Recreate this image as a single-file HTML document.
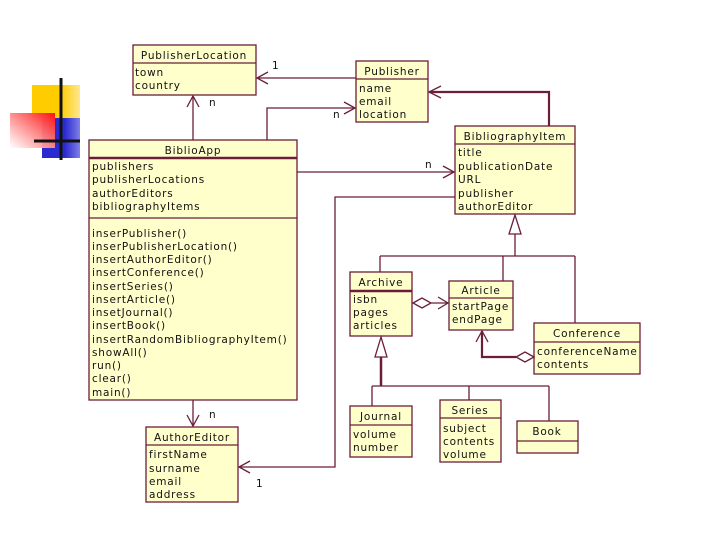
<!DOCTYPE html>
<html><head><meta charset="utf-8"><style>
html,body{margin:0;padding:0;background:#fff}
svg text{font-family:"DejaVu Sans","Liberation Sans",sans-serif;font-size:10.5px;fill:#111;letter-spacing:0.8px}
</style></head><body>
<svg width="720" height="540" viewBox="0 0 720 540" xmlns="http://www.w3.org/2000/svg">
<defs>
<linearGradient id="rg" x1="1" y1="0" x2="0" y2="1">
<stop offset="0" stop-color="#ff1010"/><stop offset="1" stop-color="#ffffff" stop-opacity="0.9"/>
</linearGradient>
<linearGradient id="yg" x1="0" y1="0" x2="1" y2="0"><stop offset="0.6" stop-color="#ffcc00"/><stop offset="1" stop-color="#ffe890"/></linearGradient>
<linearGradient id="bg" x1="0" y1="0" x2="1" y2="0"><stop offset="0.6" stop-color="#2a2ad0"/><stop offset="1" stop-color="#8080e8"/></linearGradient>
</defs>
<rect x="32" y="85" width="48" height="33" fill="url(#yg)"/>
<rect x="42" y="118" width="38" height="40" fill="url(#bg)"/>
<rect x="10" y="113" width="45" height="35" fill="url(#rg)"/>
<line x1="61" y1="78" x2="61" y2="160" stroke="#111" stroke-width="3"/>
<line x1="34" y1="141" x2="80" y2="141" stroke="#111" stroke-width="3"/>

<g fill="#ffffcc" stroke="#6b1e3a" stroke-width="1.3">
<rect x="133" y="45" width="123" height="50"/>
<rect x="356" y="61" width="72" height="61"/>
<rect x="89" y="140" width="208" height="260"/>
<rect x="455" y="126" width="120" height="88"/>
<rect x="350" y="272" width="62" height="64"/>
<rect x="449" y="281" width="64" height="49"/>
<rect x="534" y="323" width="106" height="51"/>
<rect x="350" y="406" width="62" height="51"/>
<rect x="440" y="400" width="61" height="62"/>
<rect x="517" y="421" width="61" height="32"/>
<rect x="146" y="427" width="92" height="75"/>
</g>
<g stroke="#6b1e3a" stroke-width="1.3" fill="none">
<line x1="133" y1="63" x2="256" y2="63"/>
<line x1="356" y1="79" x2="428" y2="79"/>
<line x1="89" y1="158" x2="297" y2="158" stroke-width="2.5"/>
<line x1="89" y1="218" x2="297" y2="218"/>
<line x1="455" y1="144" x2="575" y2="144"/>
<line x1="350" y1="291" x2="412" y2="291" stroke-width="2.5"/>
<line x1="449" y1="298" x2="513" y2="298"/>
<line x1="534" y1="342" x2="640" y2="342"/>
<line x1="350" y1="425" x2="412" y2="425"/>
<line x1="440" y1="418" x2="501" y2="418"/>
<line x1="517" y1="441" x2="578" y2="441"/>
<line x1="146" y1="445" x2="238" y2="445"/>

<line x1="356" y1="78" x2="257" y2="78"/><path d="M268 72 L257 78 L268 84"/>
<line x1="193" y1="140" x2="193" y2="96"/><path d="M187 107 L193 96 L199 107"/>
<path d="M267 140 V108 H355"/><path d="M344 102 L355 108 L344 114"/>
<line x1="297" y1="172" x2="454" y2="172"/><path d="M443 166 L454 172 L443 178"/>
<path d="M455 197 H335 V467 H239"/><path d="M250 461 L239 467 L250 473"/>
<line x1="193" y1="400" x2="193" y2="426"/><path d="M187 415 L193 426 L199 415"/>
<path d="M549 126 V92 H429" stroke-width="2.2"/><path d="M441 86 L429 92 L441 98"/>
<path d="M515 215 L509 234 L521 234 Z"/>
<path d="M515 234 V256 M380 256 H575 M380 256 V272 M503 256 V281 M575 256 V323"/>
<path d="M413 303 L422 298 L431 303 L422 308 Z"/><line x1="431" y1="303" x2="448" y2="303"/><path d="M438 297 L448 303 L438 309"/>
<path d="M534 357 L525 352 L516 357 L525 362 Z"/><path d="M516 357 H482 V331" stroke-width="2.2"/><path d="M476 342 L482 331 L488 342"/>
<path d="M381 337 L375 357 L387 357 Z"/><line x1="381" y1="357" x2="381" y2="386" stroke-width="2.5"/>
<path d="M372 386 H549 M372 386 V406 M469 386 V400 M549 386 V421"/>
</g>

<g>
<text x="194" y="59" text-anchor="middle">PublisherLocation</text>
<text x="135" y="76">town</text><text x="135" y="89">country</text>
<text x="392" y="75" text-anchor="middle">Publisher</text>
<text x="359" y="92">name</text><text x="359" y="105">email</text><text x="359" y="118">location</text>
<text x="193" y="154" text-anchor="middle">BiblioApp</text>
<text x="92" y="170">publishers</text><text x="92" y="183">publisherLocations</text>
<text x="92" y="197">authorEditors</text><text x="92" y="210">bibliographyItems</text>
<text x="92" y="237">inserPublisher()</text>
<text x="92" y="250">inserPublisherLocation()</text>
<text x="92" y="263">insertAuthorEditor()</text>
<text x="92" y="276">insertConference()</text>
<text x="92" y="290">insertSeries()</text>
<text x="92" y="303">insertArticle()</text>
<text x="92" y="316">insetJournal()</text>
<text x="92" y="329">insertBook()</text>
<text x="92" y="343">insertRandomBibliographyItem()</text>
<text x="92" y="356">showAll()</text>
<text x="92" y="369">run()</text>
<text x="92" y="382">clear()</text>
<text x="92" y="396">main()</text>
<text x="515" y="140" text-anchor="middle">BibliographyItem</text>
<text x="458" y="156">title</text><text x="458" y="170">publicationDate</text><text x="458" y="183">URL</text>
<text x="458" y="197">publisher</text><text x="458" y="210">authorEditor</text>
<text x="381" y="286" text-anchor="middle">Archive</text>
<text x="353" y="303">isbn</text><text x="353" y="316">pages</text><text x="353" y="329">articles</text>
<text x="481" y="294" text-anchor="middle">Article</text>
<text x="452" y="310">startPage</text><text x="452" y="323">endPage</text>
<text x="587" y="337" text-anchor="middle">Conference</text>
<text x="537" y="355">conferenceName</text><text x="537" y="368">contents</text>
<text x="381" y="420" text-anchor="middle">Journal</text>
<text x="353" y="438">volume</text><text x="353" y="451">number</text>
<text x="470" y="414" text-anchor="middle">Series</text>
<text x="443" y="432">subject</text><text x="443" y="445">contents</text><text x="443" y="458">volume</text>
<text x="547" y="435" text-anchor="middle">Book</text>
<text x="192" y="441" text-anchor="middle">AuthorEditor</text>
<text x="149" y="458">firstName</text><text x="149" y="472">surname</text>
<text x="149" y="485">email</text><text x="149" y="498">address</text>
<text x="272" y="69">1</text>
<text x="209" y="106">n</text>
<text x="333" y="118">n</text>
<text x="425" y="168">n</text>
<text x="209" y="418">n</text>
<text x="256" y="487">1</text>
</g>
</svg>
</body></html>
